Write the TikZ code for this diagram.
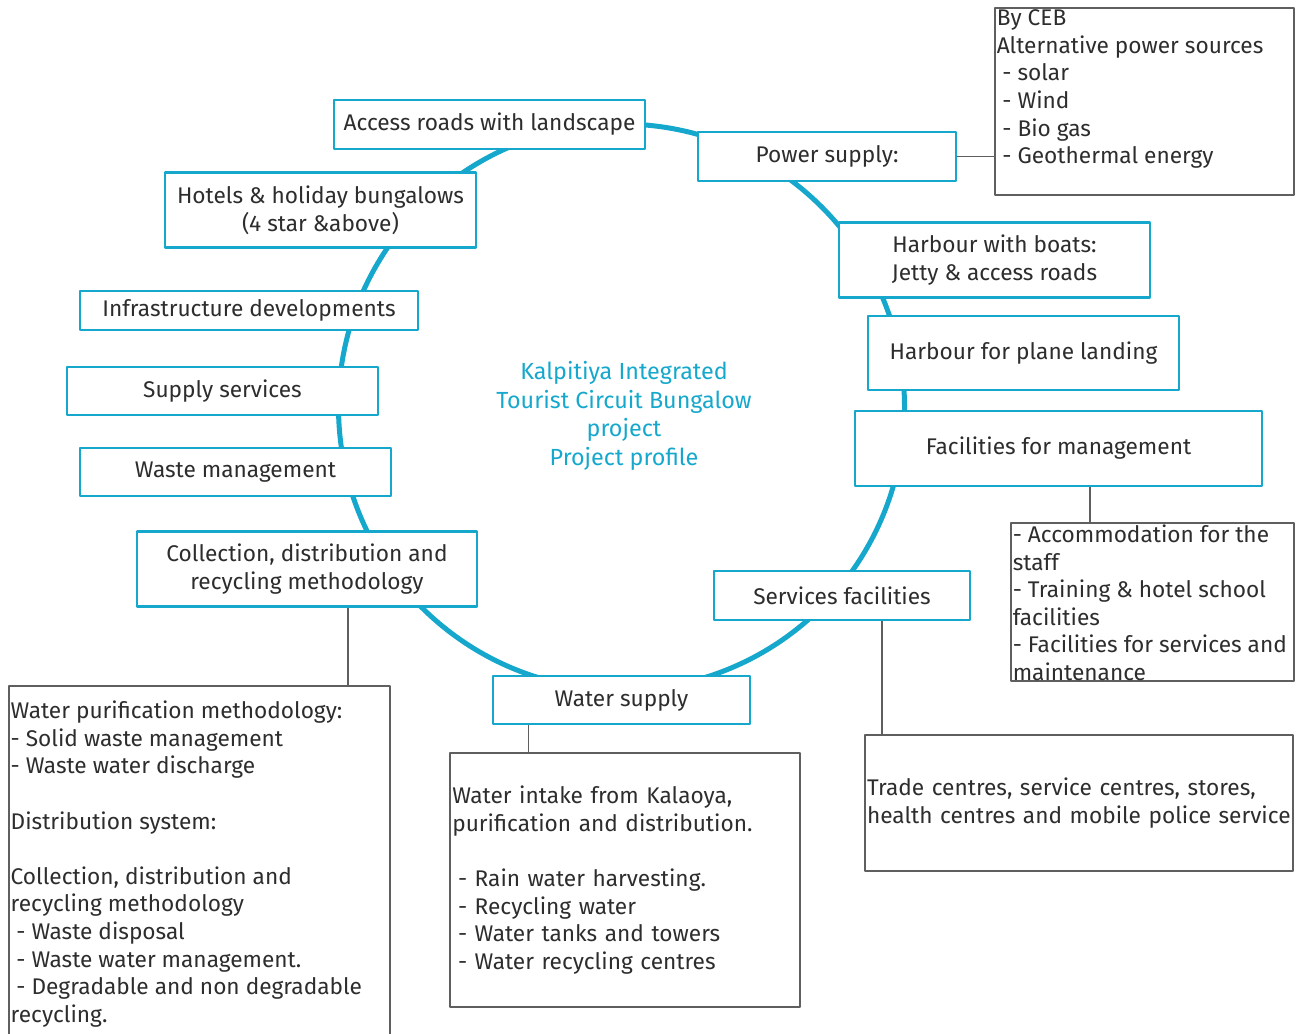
\documentclass[tikz,border=0pt]{standalone}
\usepackage{fontspec}
\setmainfont{Fira Sans}
\usetikzlibrary{positioning}
\definecolor{ringblue}{RGB}{22,168,204}
\definecolor{ink}{RGB}{45,45,45}
\definecolor{rulegray}{RGB}{95,95,95}
\begin{document}
\begin{tikzpicture}[x=0.75pt,y=-0.75pt,line join=round]
\tikzset{every node/.style={font=\fontsize{17}{20.7}\selectfont, text=ink},
  hub/.style 2 args={draw=ringblue, line width=1.9pt, fill=white, align=center,
    inner sep=2pt, minimum width=#1*0.75pt, minimum height=#2*0.75pt},
  note/.style 2 args={draw=rulegray, line width=0.8pt, minimum width=#1*0.75pt,
    minimum height=#2*0.75pt},
  notetext/.style={anchor=north west, align=left, inner sep=1.5pt},
  link/.style={draw=rulegray, line width=0.8pt}}
\useasboundingbox (0,0) rectangle (1301,1033);
\draw[ringblue, line width=3.75pt] (621.5,407) circle[radius=212.25pt];
\node[text=ringblue, align=center, font=\fontsize{17.5}{21.5}\selectfont] (title) at (624,416)
  {Kalpitiya Integrated\\Tourist Circuit Bungalow\\project\\Project profile};
\node[hub={311}{49}] (access) at (489.5,124.5) {Access roads with landscape};
\node[hub={258}{49}] (power) at (827,156.5) {Power supply:};
\node[hub={311}{75}] (hotels) at (320.5,210) {Hotels \& holiday bungalows\\(4 star \&above)};
\node[hub={311}{75}] (boats) at (994.5,260) {Harbour with boats:\\Jetty \& access roads};
\node[hub={338}{39}] (infra) at (249,310.5) {Infrastructure developments};
\node[hub={311}{74}] (plane) at (1023.5,353) {Harbour for plane landing};
\node[hub={311}{48}] (supply) at (222.5,391) {Supply services};
\node[hub={407}{75}] (mgmt) at (1058.5,448.5) {Facilities for management};
\node[hub={311}{48}] (waste) at (235.5,472) {Waste management};
\node[hub={340}{75}] (collect) at (307,569) {Collection, distribution and\\recycling methodology};
\node[hub={256}{49}] (services) at (842,595.5) {Services facilities};
\node[hub={257}{48}] (water) at (621.5,700) {Water supply};
% notes
\node[note={299}{187}] (cebnote) at (1144.5,101.5) {};
\node[notetext] at (cebnote.north west) {By CEB\\Alternative power sources\\
  \hspace*{0.25em}- solar\\\hspace*{0.25em}- Wind\\\hspace*{0.25em}- Bio gas\\
  \hspace*{0.25em}- Geothermal energy};
\node[note={283}{158}] (staffnote) at (1152.5,602) {};
\node[notetext] at (staffnote.north west) {- Accommodation for the\\staff\\
  - Training \& hotel school\\facilities\\- Facilities for services and\\maintenance};
\node[note={381}{354}] (wastenote) at (199.5,863) {};
\node[notetext, yshift=-10pt] at (wastenote.north west) {Water purification methodology:\\
  - Solid waste management\\- Waste water discharge\\~\\Distribution system:\\~\\
  Collection, distribution and\\recycling methodology\\
  \hspace*{0.25em}- Waste disposal\\\hspace*{0.25em}- Waste water management.\\
  \hspace*{0.25em}- Degradable and non degradable\\recycling.};
\node[note={350}{254}, text width=259pt, align=left, inner sep=1.5pt] (waternote) at (625,880)
  {Water intake from Kalaoya,\\purification and distribution.\\~\\
  \hspace*{0.25em}- Rain water harvesting.\\\hspace*{0.25em}- Recycling water\\
  \hspace*{0.25em}- Water tanks and towers\\\hspace*{0.25em}- Water recycling centres};
\node[note={428}{136}, text width=318pt, align=left, inner sep=1.5pt] (tradenote) at (1079,803)
  {Trade centres, service centres, stores,\\health centres and mobile police service};
% links
\draw[link] (power.east) -- (power.east -| cebnote.west);
\draw[link] ([xshift=23.6pt]mgmt.south) -- ([xshift=23.6pt]mgmt.south |- staffnote.north);
\draw[link] ([xshift=30.75pt]collect.south) -- ([xshift=30.75pt]collect.south |- wastenote.north);
\draw[link] ([xshift=-70.1pt]water.south) -- ([xshift=-70.1pt]water.south |- waternote.north);
\draw[link] ([xshift=30pt]services.south) -- ([xshift=30pt]services.south |- tradenote.north);
\end{tikzpicture}
\end{document}
